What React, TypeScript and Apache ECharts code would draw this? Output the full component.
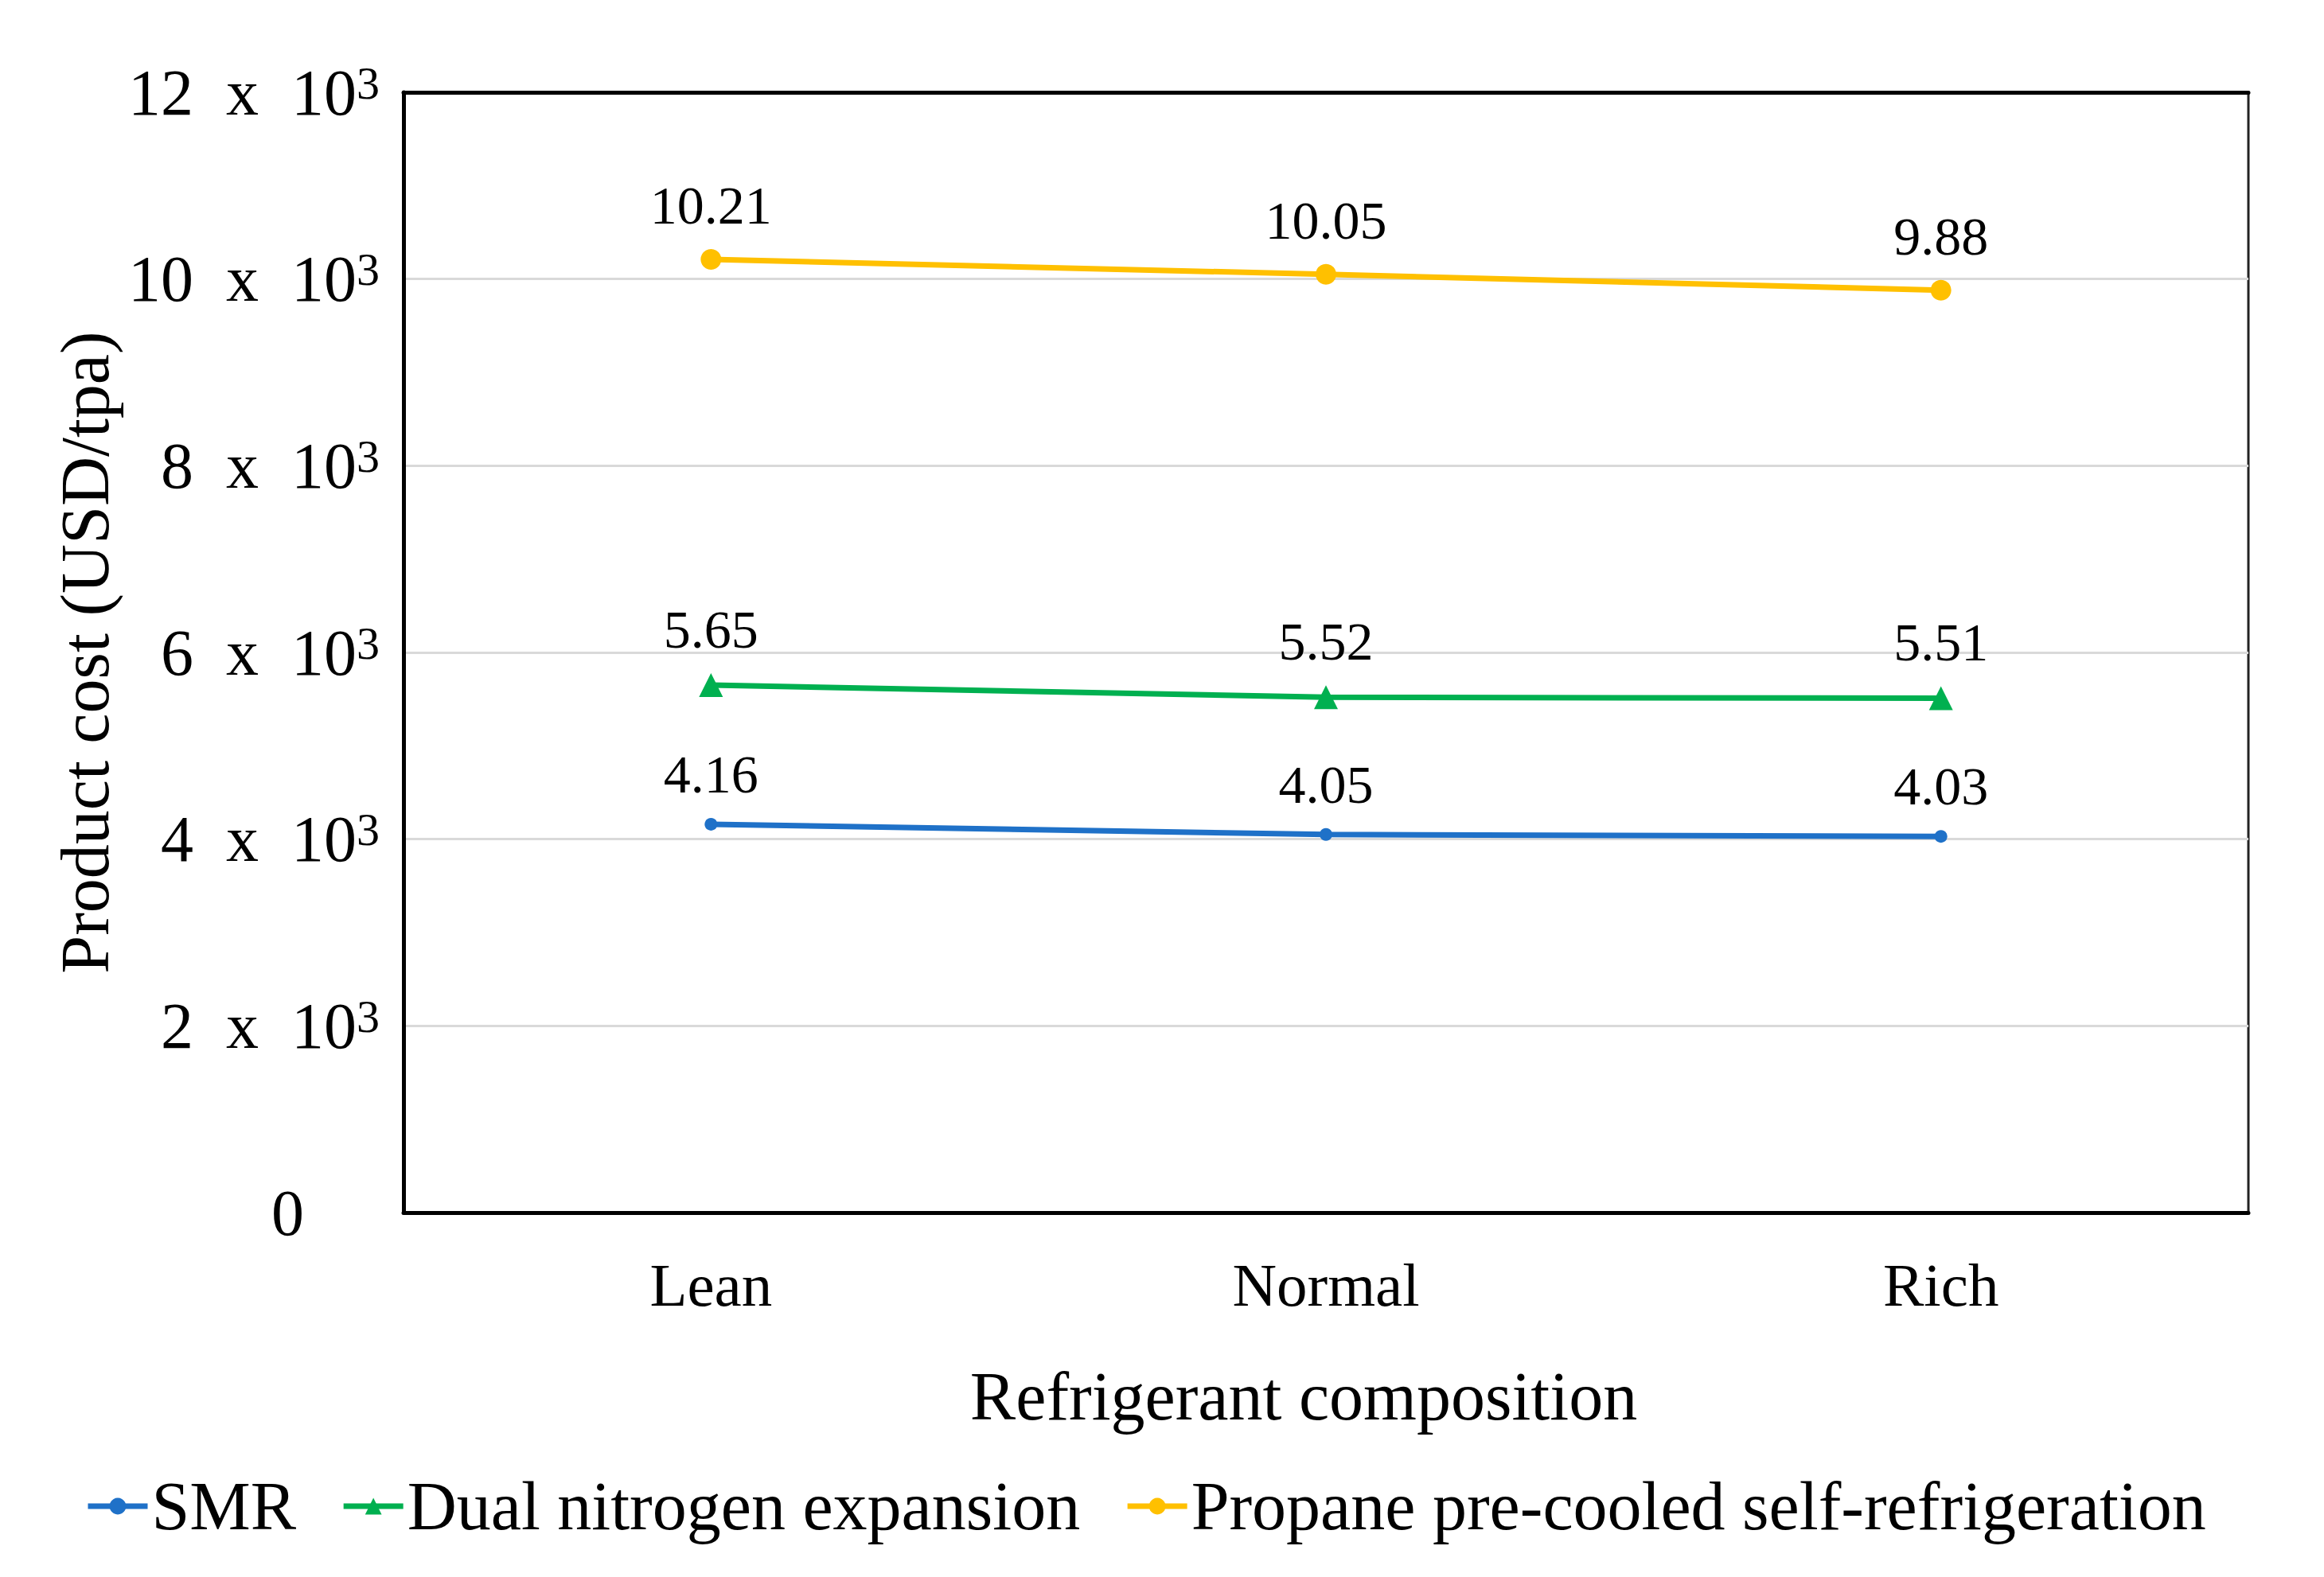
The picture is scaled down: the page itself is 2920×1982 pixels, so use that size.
import { useEffect, useRef } from 'react';
import * as echarts from 'echarts';

const categories = ['Lean', 'Normal', 'Rich'];
const seriesNames = ['SMR', 'Dual nitrogen expansion', 'Propane pre-cooled self-refrigeration'];
const smrValues = [4.16, 4.05, 4.03];
const dualNitrogenValues = [5.65, 5.52, 5.51];
const propaneValues = [10.21, 10.05, 9.88];
const yMin = 0;
const yMax = 12;
const yInterval = 2;

const FONT = "'Liberation Serif', 'Times New Roman', serif";

export default function App() {
  const ref = useRef<HTMLDivElement>(null);

  useEffect(() => {
    document.body.style.margin = '0';
    if (!ref.current) return;
    const chart = echarts.init(ref.current, null, { renderer: 'svg' });

    const label = {
      show: true,
      position: 'top',
      distance: 21,
      color: '#000',
      fontFamily: FONT,
      fontSize: 68,
      formatter: (p: any) => Number(p.value).toFixed(2),
    };

    const option = {
      animation: false,
      backgroundColor: '#fff',
      textStyle: { fontFamily: FONT, color: '#000' },
      grid: {
        left: 507,
        right: 95,
        top: 116,
        bottom: 458,
        show: true,
        borderColor: '#222',
        borderWidth: 3,
        backgroundColor: 'transparent',
      },
      legend: {
        top: 1845,
        left: 102,
        itemWidth: 75,
        itemHeight: 26,
        itemGap: 56,
        lineStyle: { width: 7 },
        textStyle: { fontFamily: FONT, fontSize: 86, color: '#000' },
        data: seriesNames,
      },
      xAxis: [
        {
          type: 'category',
          data: categories,
          boundaryGap: true,
          axisLine: { show: true, lineStyle: { color: '#000', width: 5 } },
          axisTick: { show: false },
          axisLabel: { fontFamily: FONT, fontSize: 77, color: '#000', margin: 52 },
          name: 'Refrigerant composition',
          nameLocation: 'middle',
          nameGap: 188,
          nameTextStyle: { fontFamily: FONT, fontSize: 86, color: '#000', padding: [0, 56, 0, 0] },
          splitLine: { show: false },
        },
        {
          type: 'category',
          data: categories,
          position: 'top',
          axisLine: { show: true, lineStyle: { color: '#000', width: 5 } },
          axisTick: { show: false },
          axisLabel: { show: false },
          splitLine: { show: false },
        },
      ],
      yAxis: {
        type: 'value',
        min: yMin,
        max: yMax,
        interval: yInterval,
        axisLine: { show: true, lineStyle: { color: '#000', width: 5 } },
        axisTick: { show: false },
        splitLine: { show: true, lineStyle: { color: '#d9d9d9', width: 3 } },
        name: 'Product cost (USD/tpa)',
        nameLocation: 'middle',
        nameGap: 342,
        nameTextStyle: { fontFamily: FONT, fontSize: 86, color: '#000' },
        axisLabel: {
          margin: 30,
          color: '#000',
          fontFamily: FONT,
          formatter: (v: number) =>
            v === 0 ? '{z|0}' : `{n|${v}\u00a0\u00a0x\u00a0\u00a010}{s|3}`,
          rich: {
            n: { fontFamily: FONT, fontSize: 82, color: '#000', lineHeight: 82 },
            s: {
              fontFamily: FONT,
              fontSize: 58,
              color: '#000',
              lineHeight: 58,
              verticalAlign: 'top',
              padding: [0, 0, 66, 0],
            },
            z: { fontFamily: FONT, fontSize: 82, color: '#000', padding: [0, 95, 0, 0] },
          },
        },
      },
      series: [
        {
          name: seriesNames[0],
          type: 'line',
          data: smrValues,
          color: '#1f71c8',
          lineStyle: { width: 7, color: '#1f71c8' },
          symbol: 'circle',
          symbolSize: 16,
          itemStyle: { color: '#1f71c8' },
          label,
        },
        {
          name: seriesNames[1],
          type: 'line',
          data: dualNitrogenValues,
          color: '#00b050',
          lineStyle: { width: 7, color: '#00b050' },
          symbol: 'triangle',
          symbolSize: 30,
          itemStyle: { color: '#00b050' },
          label,
        },
        {
          name: seriesNames[2],
          type: 'line',
          data: propaneValues,
          color: '#ffc000',
          lineStyle: { width: 7, color: '#ffc000' },
          symbol: 'circle',
          symbolSize: 26,
          itemStyle: { color: '#ffc000' },
          label,
        },
      ],
    };

    chart.setOption(option as any);
    return () => chart.dispose();
  }, []);

  return <div ref={ref} style={{ width: 2920, height: 1982 }} />;
}
